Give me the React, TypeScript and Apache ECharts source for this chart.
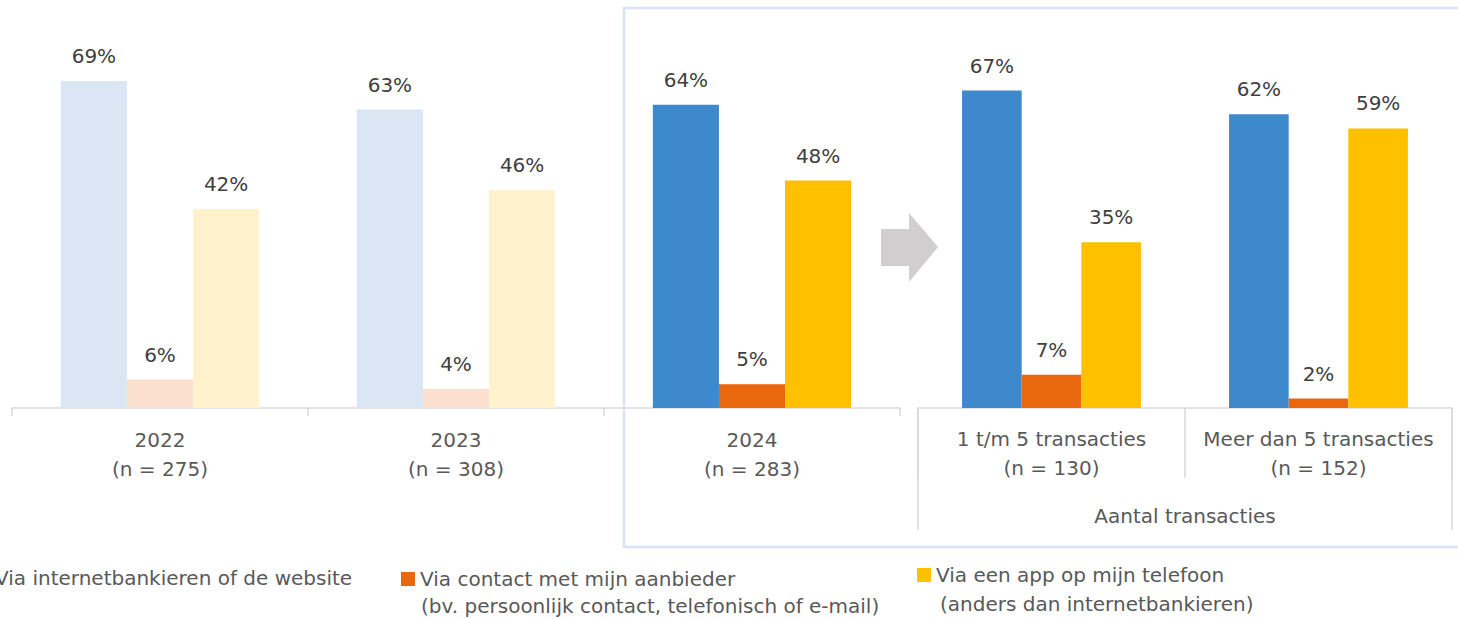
import React, { useEffect, useRef } from "react";
import * as echarts from "echarts";

const yearCategories = ["2022\n(n = 275)", "2023\n(n = 308)", "2024\n(n = 283)"];
const transCategories = ["1 t/m 5 transacties\n(n = 130)", "Meer dan 5 transacties\n(n = 152)"];
const groupCategories = ["Aantal transacties"];

const seriesNames = [
  "Via internetbankieren of de website",
  "Via contact met mijn aanbieder",
  "Via een app op mijn telefoon",
];
const seriesSubLines = ["", "(bv. persoonlijk contact, telefonisch of e-mail)", "(anders dan internetbankieren)"];

const internetYears = [69, 63, 64];
const contactYears = [6, 4, 5];
const appYears = [42, 46, 48];

const internetTrans = [67, 62];
const contactTrans = [7, 2];
const appTrans = [35, 59];

const fadedYears = [true, true, false];

const mainColors = ["#3E88CC", "#E8670F", "#FFC000"];
const fadedColors = ["#DAE6F3", "#FBE0D0", "#FFF2CD"];

const FONT = "DejaVu Sans";

export default function App() {
  const ref = useRef<HTMLDivElement>(null);

  useEffect(() => {
    if (!ref.current) return;
    const chart = echarts.init(ref.current, undefined, { renderer: "svg" });

    const label = {
      show: true,
      position: "top",
      distance: 15,
      formatter: "{c}%",
      fontFamily: FONT,
      fontSize: 20,
      color: "#404040",
    };

    const yearSets = [internetYears, contactYears, appYears];
    const transSets = [internetTrans, contactTrans, appTrans];

    const series: any[] = [];
    yearSets.forEach((vals, i) => {
      series.push({
        type: "bar",
        name: seriesNames[i],
        xAxisIndex: 0,
        yAxisIndex: 0,
        barGap: "0%",
        barCategoryGap: "33%",
        itemStyle: { color: mainColors[i] },
        label,
        data: vals.map((v, j) => ({
          value: v,
          itemStyle: { color: fadedYears[j] ? fadedColors[i] : mainColors[i] },
        })),
      });
    });
    transSets.forEach((vals, i) => {
      series.push({
        type: "bar",
        name: seriesNames[i],
        xAxisIndex: 1,
        yAxisIndex: 1,
        barGap: "0%",
        barCategoryGap: "33%",
        itemStyle: { color: mainColors[i] },
        label,
        data: vals,
      });
    });

    const axisLabel = {
      fontFamily: FONT,
      fontSize: 20,
      color: "#595959",
      lineHeight: 29,
      margin: 17,
      interval: 0,
    };

    const tickStyle = { color: "#D9D9D9", width: 1.5 };

    const legendPositions = [
      { left: -24, top: 568 },
      { left: 401, top: 569 },
      { left: 917, top: 565 },
    ];

    const option: any = {
      animation: false,
      textStyle: { fontFamily: FONT },
      grid: [
        { left: 12, width: 888, top: 29, bottom: 211 },
        { left: 918, width: 534, top: 29, bottom: 211 },
      ],
      xAxis: [
        {
          type: "category",
          gridIndex: 0,
          data: yearCategories,
          axisLine: { show: true, lineStyle: tickStyle },
          axisTick: { show: true, interval: 0, alignWithLabel: false, length: 8, lineStyle: tickStyle },
          axisLabel,
        },
        {
          type: "category",
          gridIndex: 1,
          data: transCategories,
          axisLine: { show: true, lineStyle: tickStyle },
          axisTick: { show: true, interval: 0, alignWithLabel: false, length: 70, lineStyle: tickStyle },
          axisLabel: { ...axisLabel, margin: 16 },
        },
        {
          type: "category",
          gridIndex: 1,
          position: "bottom",
          data: groupCategories,
          axisLine: { show: false },
          axisTick: { show: true, interval: 0, alignWithLabel: false, length: 122, lineStyle: tickStyle },
          axisLabel: { ...axisLabel, margin: 93 },
        },
      ],
      yAxis: [
        { type: "value", gridIndex: 0, min: 0, max: 80, show: false, splitLine: { show: false } },
        { type: "value", gridIndex: 1, min: 0, max: 80, show: false, splitLine: { show: false } },
      ],
      legend: seriesNames.map((name, i) => ({
        data: [name],
        left: legendPositions[i].left,
        top: legendPositions[i].top,
        padding: 0,
        itemWidth: 14,
        itemHeight: 14,
        itemGap: 6,
        icon: "rect",
        selectedMode: false,
        textStyle: { fontFamily: FONT, fontSize: 20, color: "#595959" },
      })),
      graphic: [
        {
          type: "rect",
          z: -1,
          shape: { x: 624, y: 8, width: 900, height: 539 },
          style: { fill: "none", stroke: "#D9E2F5", lineWidth: 2.5 },
        },
        {
          type: "polygon",
          shape: {
            points: [
              [881, 229],
              [909, 229],
              [909, 213],
              [938, 247],
              [909, 282],
              [909, 266],
              [881, 266],
            ],
          },
          style: { fill: "#D0CECE" },
        },
        {
          type: "text",
          x: 421,
          y: 606,
          style: {
            text: seriesSubLines[1],
            fontFamily: FONT,
            fontSize: 20,
            fill: "#595959",
            verticalAlign: "middle",
          },
        },
        {
          type: "text",
          x: 940,
          y: 604,
          style: {
            text: seriesSubLines[2],
            fontFamily: FONT,
            fontSize: 20,
            fill: "#595959",
            verticalAlign: "middle",
          },
        },
      ],
      series,
    };

    chart.setOption(option);
    return () => chart.dispose();
  }, []);

  return (
    <div
      ref={ref}
      style={{ position: "absolute", left: 0, top: 0, width: 1458, height: 619 }}
    />
  );
}
